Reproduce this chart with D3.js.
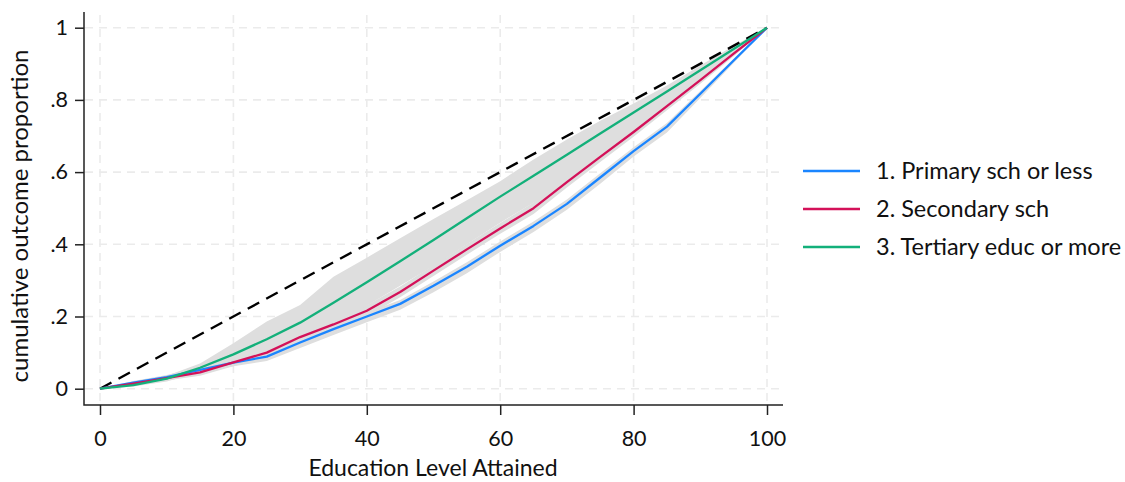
<!DOCTYPE html>
<html>
<head>
<meta charset="utf-8">
<script src="https://cdn.jsdelivr.net/npm/d3@7"></script>
<style>
  body { margin: 0; background: #ffffff; }
  svg { display: block; }
  text { font-family: Lato, "Open Sans", sans-serif; fill: #111; }
</style>
</head>
<body>
<svg id="chart" width="1125" height="482"></svg>
<script>
// Education level attained (percentile of the education distribution)
const educLevel = [0, 5, 10, 15, 20, 25, 30, 35, 40, 45, 50, 55, 60, 65, 70, 75, 80, 85, 90, 95, 100];

// Cumulative outcome proportion by education group
const primary   = [0, 0.017, 0.032, 0.052, 0.072, 0.089, 0.128, 0.165, 0.200, 0.235, 0.285, 0.338, 0.396, 0.451, 0.512, 0.585, 0.658, 0.726, 0.817, 0.909, 1];
const secondary = [0, 0.014, 0.029, 0.045, 0.073, 0.100, 0.143, 0.178, 0.216, 0.268, 0.327, 0.386, 0.444, 0.500, 0.572, 0.642, 0.711, 0.783, 0.855, 0.928, 1];
const tertiary  = [0, 0.010, 0.028, 0.058, 0.095, 0.137, 0.183, 0.238, 0.295, 0.353, 0.412, 0.472, 0.532, 0.590, 0.648, 0.707, 0.765, 0.823, 0.882, 0.941, 1];

// Confidence bands (lower / upper)
const primaryLo   = [0, 0.013, 0.026, 0.044, 0.062, 0.077, 0.113, 0.149, 0.184, 0.219, 0.267, 0.320, 0.379, 0.434, 0.496, 0.568, 0.643, 0.710, 0.805, 0.902, 1];
const primaryHi   = [0, 0.021, 0.038, 0.060, 0.081, 0.099, 0.139, 0.176, 0.211, 0.246, 0.297, 0.350, 0.408, 0.463, 0.524, 0.597, 0.669, 0.736, 0.825, 0.914, 1];
const secondaryLo = [0, 0.010, 0.023, 0.036, 0.062, 0.087, 0.129, 0.163, 0.201, 0.253, 0.312, 0.371, 0.429, 0.484, 0.557, 0.628, 0.698, 0.771, 0.845, 0.921, 1];
const secondaryHi = [0, 0.018, 0.035, 0.054, 0.084, 0.113, 0.157, 0.193, 0.231, 0.283, 0.342, 0.401, 0.459, 0.516, 0.587, 0.656, 0.724, 0.795, 0.865, 0.935, 1];
const tertiaryLo  = [0, 0.006, 0.020, 0.046, 0.070, 0.100, 0.140, 0.180, 0.230, 0.285, 0.340, 0.400, 0.460, 0.515, 0.575, 0.645, 0.710, 0.780, 0.855, 0.925, 1];
const tertiaryHi  = [0, 0.014, 0.036, 0.070, 0.126, 0.186, 0.232, 0.310, 0.363, 0.417, 0.470, 0.522, 0.575, 0.635, 0.690, 0.742, 0.790, 0.840, 0.895, 0.950, 1];

// Line of equality
const equalityX = [0, 100];
const equalityY = [0, 1];

const seriesNames  = ["1. Primary sch or less", "2. Secondary sch", "3. Tertiary educ or more"];
const seriesColors = ["#1a85ff", "#d41159", "#13b07a"];

const xTicks = [0, 20, 40, 60, 80, 100];
const yTicks = [0, 0.2, 0.4, 0.6, 0.8, 1];
const yTickLabels = ["0", ".2", ".4", ".6", ".8", "1"];

const xTitle = "Education Level Attained";
const yTitle = "cumulative outcome proportion";

// ---- layout ----
const svg = d3.select("#chart");
const x = d3.scaleLinear().domain([0, 100]).range([100, 767]);
const y = d3.scaleLinear().domain([0, 1]).range([388.7, 27.7]);
const frame = { left: 84, right: 783, top: 12, bottom: 405 };

const series = [
  { name: seriesNames[0], color: seriesColors[0], v: primary,   lo: primaryLo,   hi: primaryHi },
  { name: seriesNames[1], color: seriesColors[1], v: secondary, lo: secondaryLo, hi: secondaryHi },
  { name: seriesNames[2], color: seriesColors[2], v: tertiary,  lo: tertiaryLo,  hi: tertiaryHi }
];

// ---- grid ----
const grid = svg.append("g").attr("class", "grid")
  .attr("stroke", "#ebebeb").attr("stroke-width", 1.6).attr("stroke-dasharray", "8,6");
grid.selectAll("line.h").data(yTicks).join("line").attr("class", "h")
  .attr("x1", frame.left + 1).attr("x2", frame.right)
  .attr("y1", d => y(d)).attr("y2", d => y(d));
grid.selectAll("line.v").data(xTicks).join("line").attr("class", "v")
  .attr("y1", frame.top + 3).attr("y2", frame.bottom - 1)
  .attr("x1", d => x(d)).attr("x2", d => x(d));

// ---- confidence bands ----
const band = d3.area()
  .x((d, i) => x(educLevel[i]))
  .y0(d => y(d[0]))
  .y1(d => y(d[1]));
svg.append("g").selectAll("path").data(series).join("path")
  .attr("d", s => band(s.lo.map((l, i) => [l, s.hi[i]])))
  .attr("fill", "#dedede").attr("stroke", "none");

// ---- equality line ----
svg.append("path")
  .attr("d", d3.line().x(d => x(d[0])).y(d => y(d[1]))(equalityX.map((v, i) => [v, equalityY[i]])))
  .attr("fill", "none").attr("stroke", "#000").attr("stroke-width", 2.4)
  .attr("stroke-dasharray", "13,8");

// ---- series lines ----
const line = d3.line().x((d, i) => x(educLevel[i])).y(d => y(d));
svg.append("g").selectAll("path").data(series).join("path")
  .attr("d", s => line(s.v))
  .attr("fill", "none").attr("stroke", s => s.color)
  .attr("stroke-width", 2.3).attr("stroke-linejoin", "round");

// ---- axes ----
const yAxis = svg.append("g").attr("transform", `translate(${frame.left},0)`)
  .call(d3.axisLeft(y).tickValues(yTicks).tickFormat((d, i) => yTickLabels[i])
    .tickSize(9).tickPadding(7).tickSizeOuter(0));
const xAxis = svg.append("g").attr("transform", `translate(0,${frame.bottom})`)
  .call(d3.axisBottom(x).tickValues(xTicks).tickSize(10).tickPadding(16).tickSizeOuter(0));
[xAxis, yAxis].forEach(a => {
  a.select(".domain").remove();
  a.selectAll(".tick line").attr("stroke", "#222").attr("stroke-width", 1.5);
  a.selectAll(".tick text").attr("font-family", "Lato, sans-serif").attr("font-size", 21.5).attr("fill", "#111");
});
svg.append("path")
  .attr("d", `M${frame.left},${frame.top}V${frame.bottom}H${frame.right}`)
  .attr("fill", "none").attr("stroke", "#222").attr("stroke-width", 1.5);

// ---- axis titles ----
svg.append("text").attr("x", 433).attr("y", 476).attr("text-anchor", "middle")
  .attr("font-size", 23).text(xTitle);
svg.append("text").attr("transform", "translate(28,216) rotate(-90)")
  .attr("text-anchor", "middle").attr("font-size", 24).text(yTitle);

// ---- legend ----
const legend = svg.append("g").selectAll("g").data(series).join("g")
  .attr("transform", (d, i) => `translate(803,${171 + i * 38})`);
legend.append("line").attr("x1", 0).attr("x2", 57).attr("y1", 0).attr("y2", 0)
  .attr("stroke", d => d.color).attr("stroke-width", 2.3);
legend.append("text").attr("x", 73).attr("y", 0).attr("dy", "0.35em")
  .attr("font-size", 23.5).text(d => d.name);
</script>
</body>
</html>
